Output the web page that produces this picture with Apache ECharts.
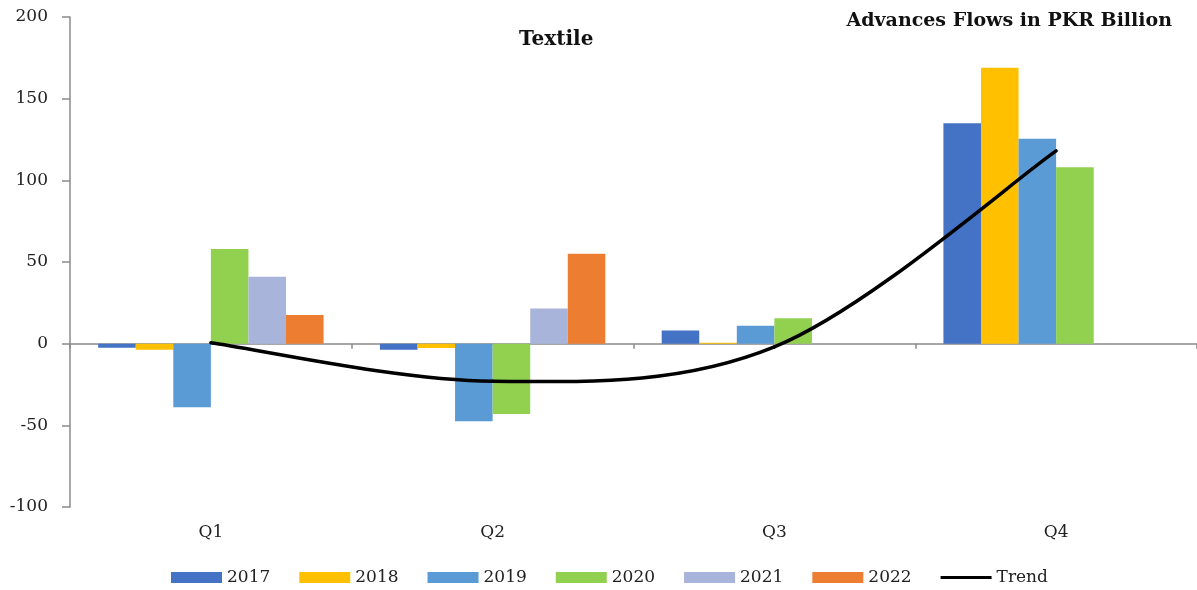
<!DOCTYPE html>
<html>
<head>
<meta charset="utf-8">
<title>Textile – Advances Flows</title>
<script src="https://cdn.jsdelivr.net/npm/echarts@6/dist/echarts.min.js"></script>
<style>
  html, body { margin: 0; padding: 0; background: #fff; }
  #chart { width: 1197px; height: 590px; }
</style>
</head>
<body>
<div id="chart"></div>
<script>
// Quarterly advances flows to the textile sector, PKR billion
const quarters = ['Q1', 'Q2', 'Q3', 'Q4'];
const years = ['2017', '2018', '2019', '2020', '2021', '2022'];
const v2017 = [-2.5, -3.7, 8, 135];
const v2018 = [-3.8, -2.6, 0.5, 169];
const v2019 = [-39, -47.5, 11, 125.5];
const v2020 = [58, -43, 15.5, 108];
const v2021 = [41, 21.5, null, null];
const v2022 = [17.5, 55, null, null];
const trend = [0.5, -23, -2, 118];
const yTicks = { min: -100, max: 200, step: 50 };

const yearValues = [v2017, v2018, v2019, v2020, v2021, v2022];
const yearColors = ['#4472C4', '#FFC000', '#5B9BD5', '#92D050', '#A9B4DA', '#ED7D31'];

const FONT = 'DejaVu Serif';
const AXIS_GREY = '#8a8a8a';

const chart = echarts.init(document.getElementById('chart'), null, { renderer: 'canvas' });

const barSeries = years.map((y, i) => ({
  name: y,
  type: 'bar',
  xAxisIndex: 0,
  data: yearValues[i],
  barGap: '0%',
  barCategoryGap: '20%',
  itemStyle: { color: yearColors[i] },
  emphasis: { disabled: true }
}));

// Smoothed trend: each point-to-point segment is a cubic Bezier whose
// control points follow the neighbouring points (Catmull-Rom, 1/6 tension).
function renderTrendSegment(params, api) {
  const i = params.dataIndex;
  const n = trend.length;
  if (i >= n - 1) return null;
  const pts = trend.map((v, k) => api.coord([k, v]));
  const p0 = pts[Math.max(i - 1, 0)];
  const p1 = pts[i];
  const p2 = pts[i + 1];
  const p3 = pts[Math.min(i + 2, n - 1)];
  return {
    type: 'bezierCurve',
    shape: {
      x1: p1[0], y1: p1[1],
      cpx1: p1[0] + (p2[0] - p0[0]) / 6, cpy1: p1[1] + (p2[1] - p0[1]) / 6,
      cpx2: p2[0] - (p3[0] - p1[0]) / 6, cpy2: p2[1] - (p3[1] - p1[1]) / 6,
      x2: p2[0], y2: p2[1]
    },
    style: { stroke: '#000', lineWidth: 3.5, fill: null, lineCap: 'round' }
  };
}

chart.setOption({
  backgroundColor: '#ffffff',
  animation: false,
  title: [
    {
      text: 'Textile',
      left: 519, top: 30, padding: 0,
      textStyle: { fontFamily: FONT, fontWeight: 'bold', fontSize: 20, color: '#111' }
    },
    {
      text: 'Advances Flows in PKR Billion',
      right: 25, top: 12, padding: 0,
      textStyle: { fontFamily: FONT, fontWeight: 'bold', fontSize: 19, color: '#111' }
    }
  ],
  legend: {
    left: 171, top: 569, padding: 0,
    itemWidth: 51, itemHeight: 11, itemGap: 29,
    textStyle: { fontFamily: FONT, fontSize: 17, color: '#222' },
    data: years.map(y => ({ name: y, icon: 'rect' }))
      .concat([{ name: 'Trend', icon: 'path://M0,0H53V3H0Z' }])
  },
  grid: { left: 70, right: 0, top: 17, bottom: 83, containLabel: false },
  xAxis: [
    {
      type: 'category',
      data: quarters,
      axisLine: { onZero: true, lineStyle: { color: AXIS_GREY, width: 1.5 } },
      axisTick: { show: true, length: 5, lineStyle: { color: AXIS_GREY, width: 1.5 } },
      axisLabel: { show: false }
    },
    {
      type: 'category',
      data: quarters,
      position: 'bottom',
      axisLine: { show: false },
      axisTick: { show: false },
      axisLabel: { margin: 17, fontFamily: FONT, fontSize: 17, color: '#222' }
    }
  ],
  yAxis: {
    type: 'value',
    min: yTicks.min, max: yTicks.max, interval: yTicks.step,
    axisLine: { show: true, lineStyle: { color: AXIS_GREY, width: 1.5 } },
    axisTick: { show: true, length: 8, lineStyle: { color: AXIS_GREY, width: 1.5 } },
    splitLine: { show: false },
    axisLabel: { margin: 22, fontFamily: FONT, fontSize: 17, color: '#222' }
  },
  series: barSeries.concat([{
    name: 'Trend',
    type: 'custom',
    xAxisIndex: 0,
    data: trend.map((v, k) => [k, v]),
    encode: { x: 0, y: 1 },
    renderItem: renderTrendSegment,
    itemStyle: { color: '#000' },
    emphasis: { disabled: true },
    z: 5
  }])
});
</script>
</body>
</html>
